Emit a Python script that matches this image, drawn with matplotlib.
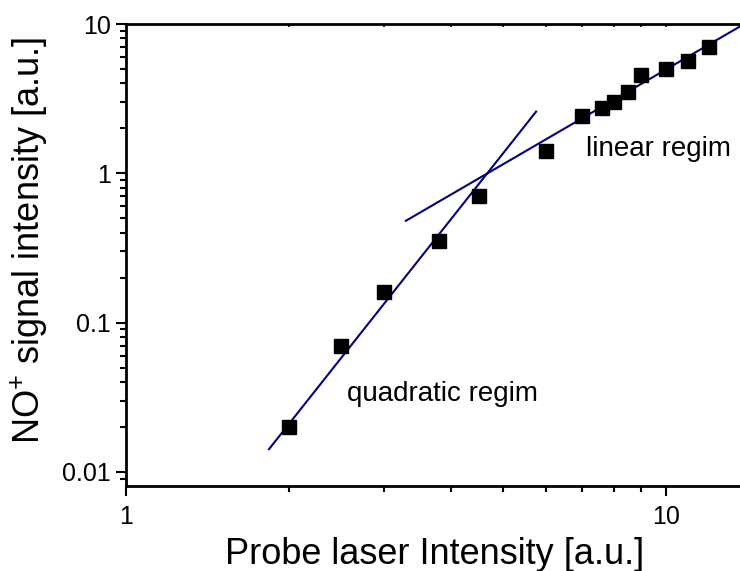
import matplotlib
matplotlib.use("Agg")
import matplotlib.pyplot as plt
from matplotlib.ticker import LogLocator, FuncFormatter, NullFormatter

plt.rcParams['font.family'] = ['Liberation Sans', 'DejaVu Sans']
plt.rcParams['mathtext.fontset'] = 'custom'
plt.rcParams['mathtext.rm'] = 'Liberation Sans'
plt.rcParams['mathtext.it'] = 'Liberation Sans'
plt.rcParams['mathtext.bf'] = 'Liberation Sans'

# Data
intensity = [2.0, 2.5, 3.0, 3.8, 4.5, 6.0, 7.0, 7.6, 8.0, 8.5, 9.0, 10.0, 11.0, 12.0]
signal = [0.02, 0.07, 0.16, 0.35, 0.70, 1.41, 2.42, 2.74, 3.0, 3.5, 4.55, 5.0, 5.65, 7.0]

# Guide lines (endpoints)
quad_x = [1.84, 5.75]
quad_y = [0.0142, 2.59]
lin_x = [3.30, 13.7]
lin_y = [0.481, 9.6]

fig = plt.figure(figsize=(7.4, 5.71), dpi=100)
ax = fig.add_axes([126/740, 1-486/571, 1-126/740, (486-24)/571])
ax.set_xscale('log')
ax.set_yscale('log')
ax.set_xlim(1, 13.72)
ax.set_ylim(0.00805, 10)

ax.plot(quad_x, quad_y, color='#000080', lw=1.5, zorder=2)
ax.plot(lin_x, lin_y, color='#000080', lw=1.5, zorder=2)
ax.plot(intensity, signal, linestyle='none', marker='s', markersize=9.6,
        color='black', zorder=3)

ax.text(7.11, 1.31, 'linear regim', fontsize=20, ha='left', va='baseline')
ax.text(2.57, 0.0299, 'quadratic regim', fontsize=20, ha='left', va='baseline')

for s in ['left', 'bottom', 'top']:
    ax.spines[s].set_linewidth(2.0)
ax.spines['right'].set_visible(False)

ax.xaxis.set_major_locator(LogLocator(base=10, numticks=10))
ax.xaxis.set_minor_locator(LogLocator(base=10, subs=range(2, 10), numticks=20))
ax.yaxis.set_major_locator(LogLocator(base=10, numticks=10))
ax.yaxis.set_minor_locator(LogLocator(base=10, subs=range(2, 10), numticks=20))
fmt = FuncFormatter(lambda v, p: '{:g}'.format(v))
ax.xaxis.set_major_formatter(fmt)
ax.yaxis.set_major_formatter(fmt)
ax.xaxis.set_minor_formatter(NullFormatter())
ax.yaxis.set_minor_formatter(NullFormatter())

ax.tick_params(which='major', direction='out', length=7, width=1.5,
               labelsize=18, pad=4)
ax.tick_params(which='minor', direction='out', length=4, width=1.5)
ax.tick_params(axis='x', which='major', pad=7)

# small inward ticks on the top axis
top = ax.secondary_xaxis('top')
top.spines['top'].set_visible(False)
top.xaxis.set_major_locator(LogLocator(base=10, numticks=10))
top.xaxis.set_minor_locator(LogLocator(base=10, subs=range(2, 10), numticks=20))
top.tick_params(which='both', direction='in', length=2, width=1.2,
                labeltop=False)

ax.set_xlabel('Probe laser Intensity [a.u.]', fontsize=26)
ax.set_ylabel('NO$^{+}$ signal intensity [a.u.]', fontsize=26)
ax.xaxis.set_label_coords((435-126)/614, -(537-486)/462)
ax.yaxis.set_label_coords((50-126)/614, (486-240)/462)

fig.savefig('out.png', dpi=100)
